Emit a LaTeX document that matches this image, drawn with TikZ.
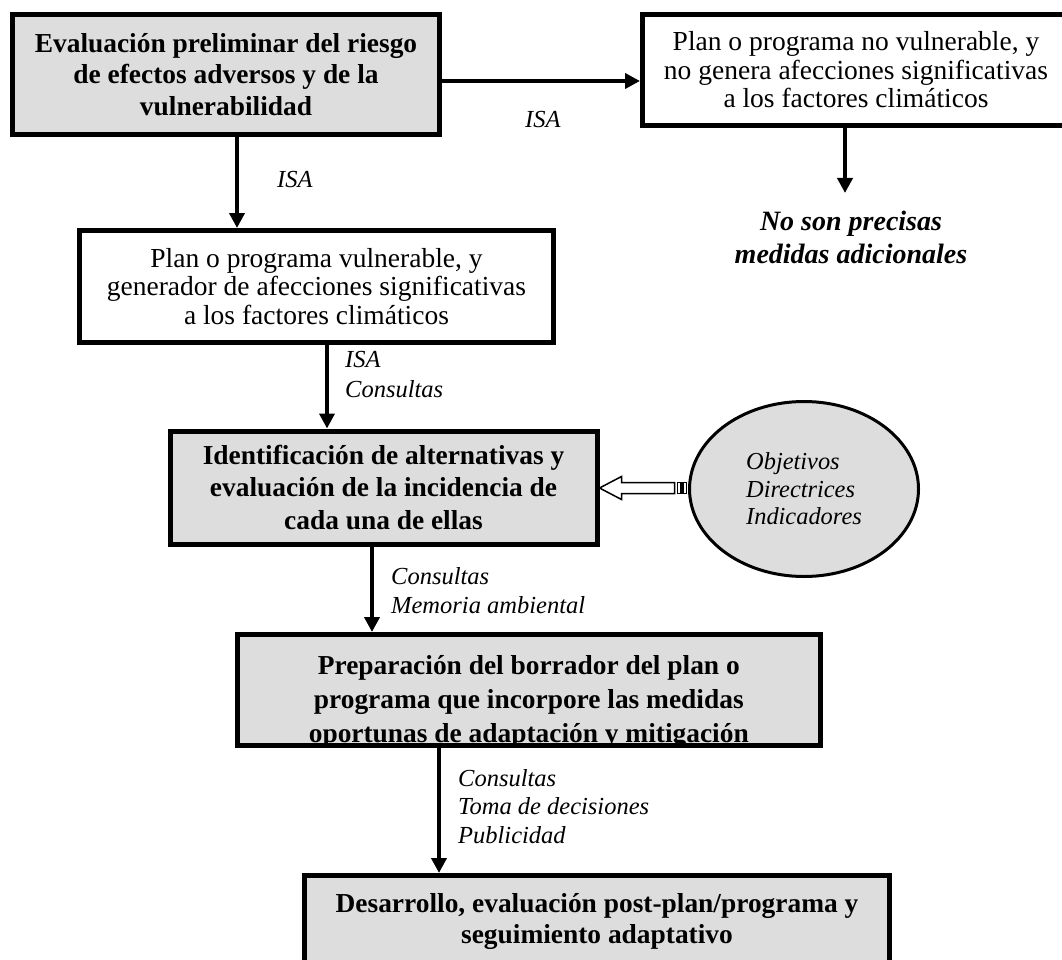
\documentclass[tikz,border=0pt]{standalone}
\usepackage{fontspec}
\setmainfont{Liberation Serif}
\usetikzlibrary{arrows.meta,shapes.geometric}
\definecolor{boxgray}{RGB}{221,221,221}
\tikzset{
  box/.style={draw, line width=5pt, inner sep=0pt, align=center},
  graybox/.style={box, fill=boxgray},
  whitebox/.style={box, fill=white},
  boldtxt/.style={font={\fontsize{27.4pt}{#1}\selectfont\bfseries}},
  regtxt/.style={font={\fontsize{27.5pt}{28.5pt}\selectfont}},
  lbl/.style={font={\fontsize{24.5pt}{#1}\selectfont\itshape}, inner sep=0pt, align=left, anchor=base west},
  lbl/.default=28.5pt,
  flowarrow/.style={line width=4.5pt, -{Triangle[length=15pt,width=15pt]}},
  hollowarrow/.style={line width=1.5pt, fill=white, line join=miter},
}
\begin{document}
\begin{tikzpicture}[x=1pt, y=-1pt]
\useasboundingbox (0,0) rectangle (1062,960);
\clip (0,0) rectangle (1062,960);

% process boxes
\node[graybox, boldtxt=31.6pt, minimum width=427pt, minimum height=120pt] (eval) at (226,74.5)
  {Evaluación preliminar del riesgo\\de efectos adversos y de la\\vulnerabilidad};
\node[whitebox, regtxt, minimum width=427pt, minimum height=111pt] (novul) at (856,70)
  {Plan o programa no vulnerable, y\\no genera afecciones significativas\\a los factores climáticos};
\node[whitebox, regtxt, minimum width=474pt, minimum height=112pt] (vul) at (316.5,286.5)
  {Plan o programa vulnerable, y\\generador de afecciones significativas\\a los factores climáticos};
\node[graybox, boldtxt=32.5pt, minimum width=427pt, minimum height=113pt] (alt) at (383.5,487.5)
  {Identificación de alternativas y\\evaluación de la incidencia de\\cada una de ellas};

% draft box: its last line is cut by the frame
\node[graybox, minimum width=583.5pt, minimum height=111pt] (draft) at (528.8,690) {};
\begin{scope}
  \clip ([shift={(5,-5)}]draft.south west) rectangle ([shift={(-5,5)}]draft.north east);
  \node[boldtxt=34pt, inner sep=0pt, align=center, anchor=base] (drafttxt) at (528.8,742)
    {Preparación del borrador del plan o\\programa que incorpore las medidas\\oportunas de adaptación y mitigación};
\end{scope}

\node[graybox, minimum width=584.5pt, minimum height=111pt] (devel) at (597,931) {};
\node[boldtxt=31pt, inner sep=0pt, align=center, anchor=base] (develtxt) at (597,943)
  {Desarrollo, evaluación post-plan/programa y\\seguimiento adaptativo};

% inputs ellipse
\node[ellipse, draw, line width=3pt, fill=boxgray, minimum width=229pt, minimum height=175pt,
  inner sep=0pt, align=left, font={\fontsize{24.4pt}{27.5pt}\selectfont\itshape}] (goals) at (804,489)
  {Objetivos\\Directrices\\Indicadores};

% outcome text
\node[inner sep=0pt, align=center, anchor=base, font={\fontsize{28pt}{33pt}\selectfont\bfseries\itshape}]
  (nomeas) at (851,263) {No son precisas\\medidas adicionales};

% connector positions
\coordinate (xa) at (237,0);
\coordinate (xb) at (327,0);
\coordinate (xc) at (372,0);
\coordinate (xd) at (439,0);
\coordinate (ya) at (0,81);
\coordinate (ym) at (0,488);
\coordinate (stop) at (845,193);

\draw[flowarrow] (eval.east |- ya) -- (novul.west |- ya);
\draw[flowarrow] (novul.south -| stop) -- (stop);
\draw[flowarrow] (eval.south -| xa) -- (vul.north -| xa);
\draw[flowarrow] (vul.south -| xb) -- (alt.north -| xb);
\draw[flowarrow] (alt.south -| xc) -- (draft.north -| xc);
\draw[flowarrow] (draft.south -| xd) -- (devel.north -| xd);

% striped hollow arrow from the ellipse into the alternatives box
\draw[hollowarrow] (alt.east |- ym) -- ++(22,-11.5) -- ++(0,6) -- ++(53,0) -- ++(0,11)
  -- ++(-53,0) -- ++(0,6) -- cycle;
\draw[hollowarrow] (alt.east |- ym) ++(78,-5.5) rectangle ++(3.5,11);
\draw[hollowarrow] (alt.east |- ym) ++(83.5,-5.5) rectangle ++(3.5,11);

% connector labels
\node[lbl] (isa1) at (525,128) {ISA};
\node[lbl] (isa2) at (277,188) {ISA};
\node[lbl=30pt] (notes3) at (345,397) {ISA\\Consultas};
\node[lbl] (notes4) at (391,613) {Consultas\\Memoria ambiental};
\node[lbl] (notes5) at (458,843) {Consultas\\Toma de decisiones\\Publicidad};
\end{tikzpicture}
\end{document}
